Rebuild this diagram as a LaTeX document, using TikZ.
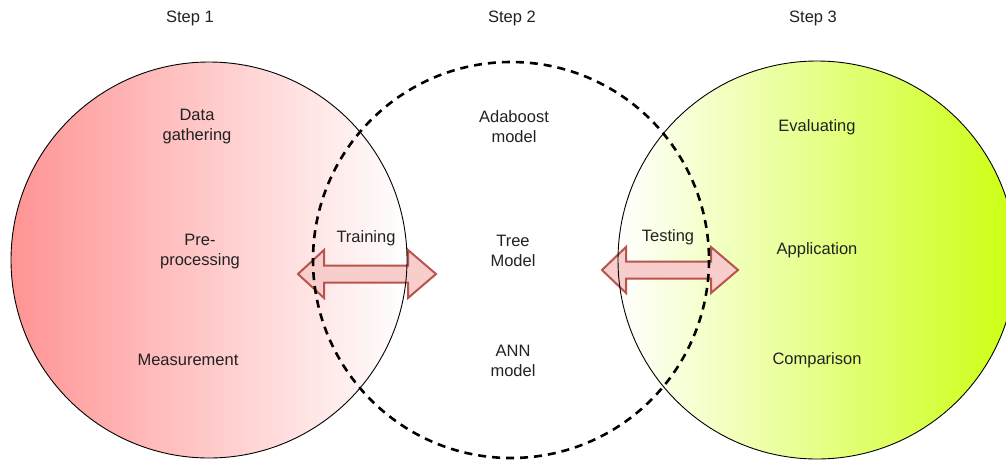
\documentclass[tikz,border=0pt]{standalone}
\usepackage{fontspec}
\setmainfont{Liberation Sans}
\definecolor{redfill}{HTML}{FF9494}
\definecolor{limefill}{HTML}{CCFF11}
\definecolor{arrfill}{HTML}{F8CECC}
\definecolor{arrline}{HTML}{B85450}
\definecolor{txt}{HTML}{222222}
\tikzset{
  lbl/.style={text=txt, align=center, font=\fontsize{16.5}{20}\selectfont, inner sep=0pt},
  bigarrow/.style={fill=arrfill, draw=arrline, line width=2pt, line join=miter},
  ring/.style={draw=black, line width=0.9pt},
  dashring/.style={draw=black, line width=2.6pt, dash pattern=on 8pt off 6pt}
}
\begin{document}
\begin{tikzpicture}[x=1pt,y=-1pt]
\useasboundingbox (0,0) rectangle (1006,461);
\clip (0,0) rectangle (1006,461);
\fill[white] (0,0) rectangle (1006,461);
% filled circles
\shade[left color=redfill, right color=white] (209,260) circle (198);
\shade[left color=white, right color=limefill] (817,260) circle (199);
% arrows
\path[bigarrow] (298,274) -- (324,250) -- (324,265.5) -- (408,265.5) -- (408,250) -- (436,274) -- (408,298) -- (408,282.5) -- (324,282.5) -- (324,298) -- cycle;
\path[bigarrow] (602,270) -- (626,247) -- (626,261.5) -- (711,261.5) -- (711,247) -- (738,270) -- (711,293) -- (711,278.5) -- (626,278.5) -- (626,293) -- cycle;
% outlines
\draw[ring] (209,260) circle (198);
\draw[ring] (817,260) circle (199);
\draw[dashring] (511,260) circle (198);
% labels
\node[lbl] (s1) at (190,18) {Step 1};
\node[lbl] (s2) at (512,18) {Step 2};
\node[lbl] (s3) at (813,18) {Step 3};
\node[lbl] (dg) at (197,127) {Data\\gathering};
\node[lbl] (pp) at (200,252) {Pre-\\processing};
\node[lbl] (ms) at (188,360) {Measurement};
\node[lbl] (tr) at (366,238) {Training};
\node[lbl] (ada) at (514,127) {Adaboost\\model};
\node[lbl] (tree) at (513,251) {Tree\\Model};
\node[lbl] (ann) at (513,361) {ANN\\model};
\node[lbl] (te) at (668,237) {Testing};
\node[lbl] (ev) at (817,127) {Evaluating};
\node[lbl] (ap) at (817,250) {Application};
\node[lbl] (cp) at (817,360) {Comparison};
\end{tikzpicture}
\end{document}
